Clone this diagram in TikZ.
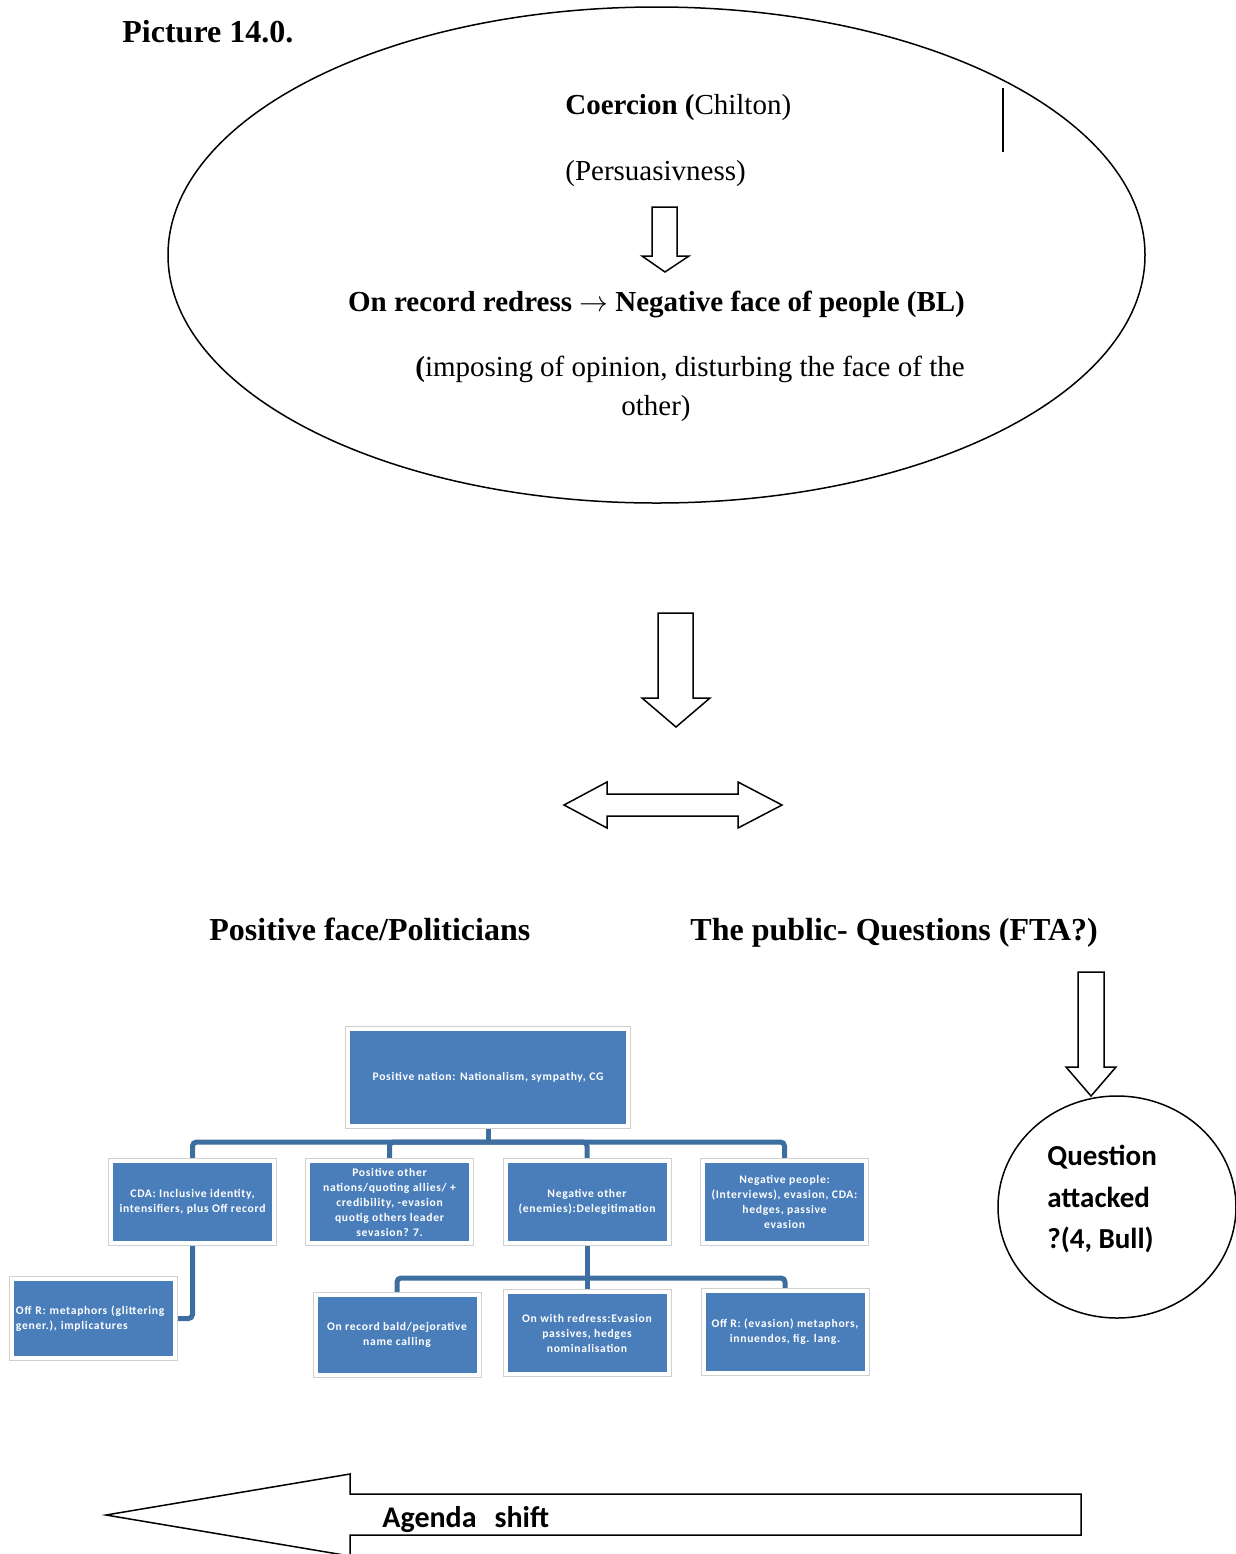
\documentclass[tikz,border=0pt]{standalone}
\usepackage{fontspec}
\setmainfont{Liberation Serif}
\newfontfamily\calib{Carlito}
\newfontfamily\calibwide{Carlito}[LetterSpace=6]
\usetikzlibrary{shapes.geometric,backgrounds}
\definecolor{boxblue}{RGB}{74,126,187}
\definecolor{linkblue}{RGB}{62,110,160}
\definecolor{framegray}{RGB}{208,208,208}

\begin{document}
\begin{tikzpicture}[x=0.5pt,y=-0.5pt,
  outline/.style={draw=black, line width=0.75pt},
  blockarrow/.style={draw=black, line width=0.75pt, fill=white, line join=miter},
  heading/.style={font=\bfseries\fontsize{16}{19}\selectfont, inner sep=0pt},
  serifline/.style={font=\fontsize{14.5}{19.5}\selectfont, inner sep=0pt},
  calibtext/.style={font=\calib\bfseries\fontsize{14.5}{20.75}\selectfont, inner sep=0pt},
  orgbox/.style={fill=boxblue, text=white,
    font=\calibwide\bfseries\fontsize{5.8}{7.5}\selectfont,
    align=center, inner sep=0pt, minimum width=79.5pt, minimum height=39pt,
    preaction={draw=framegray, line width=5pt},
    preaction={draw=white, line width=4pt}},
  link/.style={draw=linkblue, line width=2.5pt, rounded corners=2pt}]

\useasboundingbox (0,0) rectangle (1236,1554);
\clip (0,0) rectangle (1236,1554);

% ---- upper ellipse: coercion and face ----
\node[outline, ellipse, minimum width=488.5pt, minimum height=248pt] (coercion) at (656.5,255) {};
\draw[outline] (1003,88) -- (1003,152);

\node[heading, anchor=base west] (title) at (122,42) {Picture 14.0.};
\node[serifline, anchor=base west] (chilton) at (565,114) {\textbf{Coercion (}Chilton)};
\node[serifline, anchor=base west] (persuade) at (565,180) {(Persuasivness)};
\draw[blockarrow] (652,207) -- (677,207) -- (677,256) -- (689,256) -- (665,272)
  -- (642,256) -- (652,256) -- cycle;
\node[serifline, font=\bfseries\fontsize{14.5}{19.5}\selectfont, anchor=base] (redressline) at (656.5,311)
  {On record redress $\rightarrow$ Negative face of people (BL)};
\node[serifline, anchor=base west] (imposing) at (415,376)
  {\textbf{(}imposing of opinion, disturbing the face of the};
\node[serifline, anchor=base] (other) at (656,415) {other)};

% ---- middle block arrows ----
\draw[blockarrow] (658,613) -- (693,613) -- (693,698) -- (710,698) -- (676,727)
  -- (642,698) -- (658,698) -- cycle;
\draw[blockarrow] (564,805) -- (607,782) -- (607,794) -- (738,794) -- (738,782)
  -- (782,805) -- (738,828) -- (738,816) -- (607,816) -- (607,828) -- cycle;

% ---- headings ----
\node[heading, anchor=base west] (politicians) at (209,940) {Positive face/Politicians};
\node[heading, anchor=base west] (public) at (690,940) {The public- Questions (FTA?)};

% ---- right branch: question attacked ----
\draw[blockarrow] (1078,972) -- (1104,972) -- (1104,1067) -- (1116,1067) -- (1091,1096)
  -- (1066,1067) -- (1078,1067) -- cycle;
\node[outline, ellipse, minimum width=119pt, minimum height=111pt] (attacked) at (1117,1207) {};
\node[calibtext, align=left, anchor=west] (attackedtext) at (1047,1199)
  {Question\\attacked\\?(4, Bull)};

% ---- organisation chart ----
\node[orgbox, minimum width=138pt, minimum height=46.5pt] (top) at (488,1077.5)
  {Positive nation: Nationalism, sympathy, CG};
\node[orgbox] (cda) at (192.5,1202) {CDA: Inclusive identity,\\intensifiers, plus Off record};
\node[orgbox] (posother) at (389.5,1202)
  {Positive other\\nations/quoting allies/ +\\credibility, -evasion\\quotig others leader\\sevasion? 7.};
\node[orgbox] (negother) at (587,1202) {Negative other\\(enemies):Delegitimation};
\node[orgbox] (negpeople) at (784.5,1202)
  {Negative people:\\(Interviews), evasion, CDA:\\hedges, passive\\evasion};
\node[orgbox, align=left, text width=77pt, inner xsep=1pt, minimum height=37.5pt] (offr1) at (93,1318.5)
  {Off R: metaphors (glittering\\gener.), implicatures};
\node[orgbox, minimum height=38pt] (bald) at (397,1335) {On record bald/pejorative\\name calling};
\node[orgbox] (redress) at (587,1333) {On with redress:Evasion\\passives, hedges\\nominalisation};
\node[orgbox] (offr2) at (785,1332) {Off R: (evasion) metaphors,\\innuendos, fig. lang.};

\coordinate (bus1) at (488,1142);
\coordinate (bus2) at (587,1278);
\begin{scope}[on background layer]
  \draw[link] (top.south) -- (bus1);
  \draw[link] (bus1) -| (cda.north);
  \draw[link] (bus1) -| (posother.north);
  \draw[link] (bus1) -| (negother.north);
  \draw[link] (bus1) -| (negpeople.north);
  \draw[link] (cda.south) |- (offr1.east);
  \draw[link] (negother.south) -- (bus2);
  \draw[link] (bus2) -| (bald.north);
  \draw[link] (bus2) -| (redress.north);
  \draw[link] (bus2) -| (offr2.north);
\end{scope}

% ---- bottom arrow: agenda shift ----
\draw[blockarrow] (106,1515) -- (350,1474) -- (350,1494) -- (1081,1494) -- (1081,1535)
  -- (350,1535) -- (350,1556) -- cycle;
\node[calibtext, font=\calib\bfseries\fontsize{15}{18}\selectfont, anchor=base west] (agenda) at (382,1527)
  {Agenda\hspace{9pt}shift};
\end{tikzpicture}
\end{document}
